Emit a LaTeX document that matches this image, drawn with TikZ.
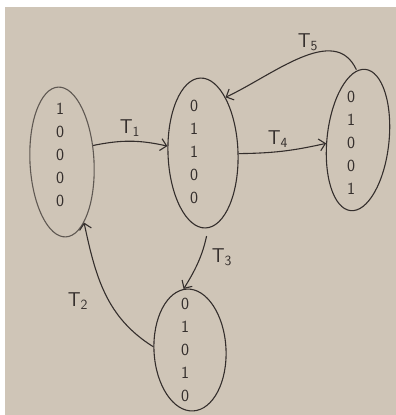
\documentclass[tikz,border=0pt]{standalone}
\usetikzlibrary{shapes.geometric,arrows.meta}
\definecolor{paper}{RGB}{207,197,183}
\definecolor{ink}{RGB}{52,46,44}
\definecolor{pencil}{RGB}{95,88,82}
\begin{document}
\begin{tikzpicture}[x=1pt,y=-1pt,
  state/.style={ellipse,draw=ink,line width=1.1pt,inner sep=0pt},
  digits/.style={text=ink,font=\sffamily\fontsize{17}{23}\selectfont,align=center,inner sep=0pt},
  trans/.style={draw=ink,line width=1.1pt,-{Straight Barb[length=6pt,width=12pt,line width=1.1pt]}},
  tlabel/.style={text=ink,font=\sffamily\fontsize{20}{22}\selectfont,inner sep=0pt}]
\useasboundingbox (0,0) rectangle (396,415);
\fill[white] (0,0) rectangle (396,415);
\fill[paper] (5,7) rectangle (396,415);
% states
\node[state,draw=pencil,minimum width=64pt,minimum height=150pt,rotate=3] (A) at (62,162) {};
\node[state,minimum width=70pt,minimum height=150pt,rotate=2] (B) at (203,153) {};
\node[state,minimum width=62pt,minimum height=142pt,rotate=-6] (C) at (358,140) {};
\node[state,minimum width=72pt,minimum height=122pt,rotate=3] (D) at (190,350) {};
% digits
\node[digits] (dA) at (60,155) {1\\0\\0\\0\\0};
\node[digits] (dB) at (194,152) {0\\1\\1\\0\\0};
\node[digits] (dC) at (351,143) {0\\1\\0\\0\\1};
\node[digits] (dD) at (185,350) {0\\1\\0\\1\\0};
% labels
\node[tlabel] (t1) at (130,128) {T\textsubscript{1}};
\node[tlabel] (t2) at (78,301) {T\textsubscript{2}};
\node[tlabel] (t3) at (222,257) {T\textsubscript{3}};
\node[tlabel] (t4) at (278,139) {T\textsubscript{4}};
\node[tlabel] (t5) at (308,42) {T\textsubscript{5}};
% transitions
\draw[trans] (A.25) to[bend left=12] (B.167);
\draw[trans] (B.-3) to[bend right=6] (C.192);
\draw[trans,shorten <=1pt] (C.97) to[out=115,in=25] (B.66);
\draw[trans,shorten <=8pt] (B.-88) to[bend left=10] (D.93);
\draw[trans] (D.172) to[out=148,in=-78] (A.-73);
\end{tikzpicture}
\end{document}
